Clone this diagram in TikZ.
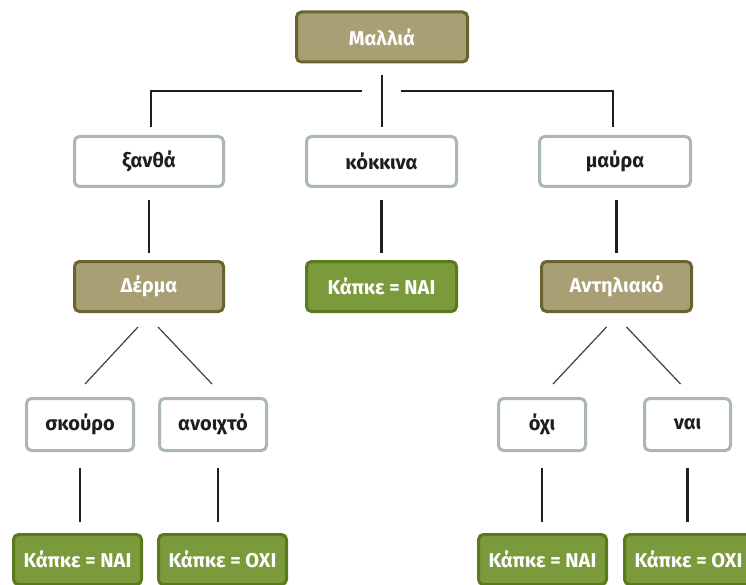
\documentclass[tikz,border=0pt]{standalone}
\usepackage{fontspec}
\setmainfont{Fira Sans}
\usetikzlibrary{calc}
\definecolor{tanfill}{HTML}{A89F74}
\definecolor{tanline}{HTML}{6B6330}
\definecolor{leaffill}{HTML}{7B9A3C}
\definecolor{leafline}{HTML}{5A7A1E}
\definecolor{optline}{HTML}{A9B8B5}
\definecolor{ink}{HTML}{1E1E1E}
\tikzset{
  box/.style={rectangle, rounded corners=5pt, line width=3pt, inner sep=0pt,
    font=\fontsize{20}{24}\selectfont\bfseries},
  question/.style={box, draw=tanline, fill=tanfill, text=white},
  option/.style={box, draw=optline, fill=white, text=ink},
  answer/.style={box, draw=leafline, fill=leaffill, text=white},
  conn/.style={draw=ink, line width=2.2pt},
  diag/.style={draw=ink!85, line width=1.2pt},
}
\begin{document}
\begin{tikzpicture}[x=1pt, y=-1pt]
\useasboundingbox (0,0) rectangle (746,585);
\clip (0,0) rectangle (746,585);

% root question
\node[question, minimum width=171, minimum height=50] (root) at (382,37) {Μαλλιά};

% hair colours
\node[option, minimum width=149, minimum height=50] (xan) at (149,161.5) {ξανθά};
\node[option, minimum width=150, minimum height=50] (kok) at (381.5,161.5) {κόκκινα};
\node[option, minimum width=151, minimum height=50] (mav) at (615,161.5) {μαύρα};

% second level
\node[question, minimum width=149, minimum height=50] (der) at (149,286.5) {Δέρμα};
\node[answer, minimum width=150, minimum height=50] (kred) at (381.5,286.5) {Κάπκε = ΝΑΙ};
\node[question, minimum width=150, minimum height=50] (ant) at (616.5,286.5) {Αντηλιακό};

% third level options
\node[option, minimum width=107, minimum height=52] (sko) at (80,424.5) {σκούρο};
\node[option, minimum width=107, minimum height=52] (ano) at (213,424.5) {ανοιχτό};
\node[option, minimum width=87, minimum height=52] (ohi) at (542,424.5) {όχι};
\node[option, minimum width=86, minimum height=52] (nai) at (687.5,424.5) {ναι};

% leaves
\node[answer, minimum width=128, minimum height=50] (l1) at (77.5,559.5) {Κάπκε = ΝΑΙ};
\node[answer, minimum width=128, minimum height=50] (l2) at (222.5,559.5) {Κάπκε = ΟΧΙ};
\node[answer, minimum width=128, minimum height=50] (l3) at (542.5,559.5) {Κάπκε = ΝΑΙ};
\node[answer, minimum width=128, minimum height=50] (l4) at (688.5,559.5) {Κάπκε = ΟΧΙ};

% branching bar under the root
\coordinate (hubL) at (362,91);
\coordinate (hubR) at (401,91);
\draw[conn, shorten <=8pt] ([xshift=2pt]xan.north) |- (hubL);
\draw[conn, shorten <=8pt] ([xshift=-2pt]mav.north) |- (hubR);
\draw[conn, shorten <=12pt, shorten >=8pt] (root.south) -- (root.south |- kok.north);

% straight links
\draw[conn, shorten <=12pt, shorten >=7pt] (xan.south) -- (xan.south |- der.north);
\draw[conn, shorten <=12pt, shorten >=7pt] (kok.south) -- (kok.south |- kred.north);
\draw[conn, shorten <=12pt, shorten >=7pt] (mav.south -| ant.north) -- (ant.north);
\draw[conn, shorten <=16pt, shorten >=11pt] (sko.south) -- (sko.south |- l1.north);
\draw[conn, shorten <=16pt, shorten >=11pt] ([xshift=5pt]ano.south) -- ([xshift=5pt]ano.south |- l2.north);
\draw[conn, shorten <=16pt, shorten >=11pt] (ohi.south) -- (ohi.south |- l3.north);
\draw[conn, shorten <=16pt, shorten >=11pt] (nai.south) -- (nai.south |- l4.north);

% diagonal links
\draw[diag] ($(der.south)+(-11,14)$) -- ($(sko.north)+(5,-13)$);
\draw[diag] ($(der.south)+(9,14)$) -- ($(ano.north)+(-1,-13)$);
\draw[diag] ($(ant.south)+(-10,14)$) -- ($(ohi.north)+(11,-13)$);
\draw[diag] ($(ant.south)+(10,14)$) -- ($(nai.north)+(-7,-13)$);
\end{tikzpicture}
\end{document}
